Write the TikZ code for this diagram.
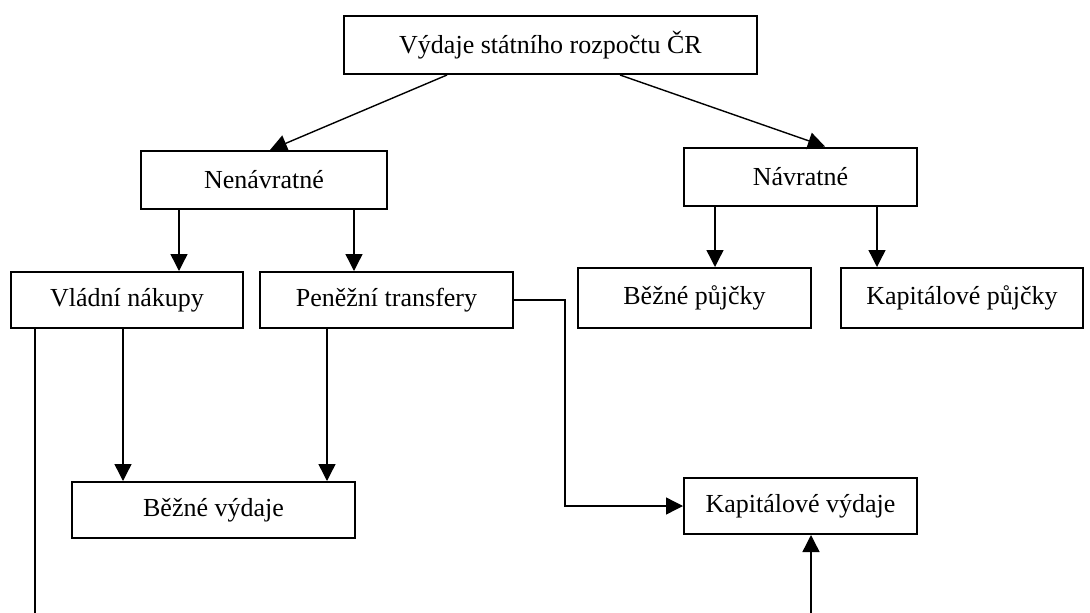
\documentclass[tikz,border=0pt]{standalone}
\usepackage{fontspec}
\setmainfont{Liberation Serif}
\usetikzlibrary{arrows.meta}

\begin{document}
\begin{tikzpicture}[x=1pt,y=-1pt,
    box/.style={draw,line width=2pt,inner sep=0pt,font=\fontsize{26}{30}\selectfont},
    conn/.style={line width=1.4pt},
    arr/.style={conn,-{Triangle[length=17pt,width=17pt]}}]
    \useasboundingbox (0,0) rectangle (1090,613);

    \node (top) at (550.5,45) [box,minimum width=413pt,minimum height=58pt] {Výdaje státního rozpočtu ČR};
    \node (nenavr) at (264,180) [box,minimum width=246pt,minimum height=58pt] {Nenávratné};
    \node (navr) at (800.5,176.5) [box,minimum width=233pt,minimum height=58pt] {Návratné};
    \node (vladni) at (127,300) [box,minimum width=232pt,minimum height=56pt] {Vládní nákupy};
    \node (penez) at (386.5,300) [box,minimum width=253pt,minimum height=56pt] {Peněžní transfery};
    \node (bpuj) at (694.5,298) [box,minimum width=233pt,minimum height=60pt] {Běžné půjčky};
    \node (kpuj) at (962,298) [box,minimum width=242pt,minimum height=60pt] {Kapitálové půjčky};
    \node (bvyd) at (213.5,510) [box,minimum width=283pt,minimum height=56pt] {Běžné výdaje};
    \node (kvyd) at (800.5,506) [box,minimum width=233pt,minimum height=56pt] {Kapitálové výdaje};

    \coordinate (cutL) at (35,613);
    \coordinate (cutR) at (811,613);

    \draw[arr] (top.south -| 447,0) -- (nenavr.north -| 270,0);
    \draw[arr] (top.south -| 620,0) -- (navr.north -| 825,0);

    \draw[arr] (nenavr.south -| 179,0) -- (vladni.north -| 179,0);
    \draw[arr] (nenavr.south -| 354,0) -- (penez.north -| 354,0);
    \draw[arr] (navr.south -| 715,0) -- (bpuj.north -| 715,0);
    \draw[arr] (navr.south -| 877,0) -- (kpuj.north -| 877,0);

    \draw[arr] (vladni.south -| 123,0) -- (bvyd.north -| 123,0);
    \draw[arr] (penez.south -| 327,0) -- (bvyd.north -| 327,0);
    \draw[arr] (penez.east) -- ++(51,0) |- (kvyd.west);

    \draw[conn] (vladni.south -| cutL) -- (cutL);
    \draw[arr] (cutR) -- (kvyd.south -| cutR);

\end{tikzpicture}
\end{document}
